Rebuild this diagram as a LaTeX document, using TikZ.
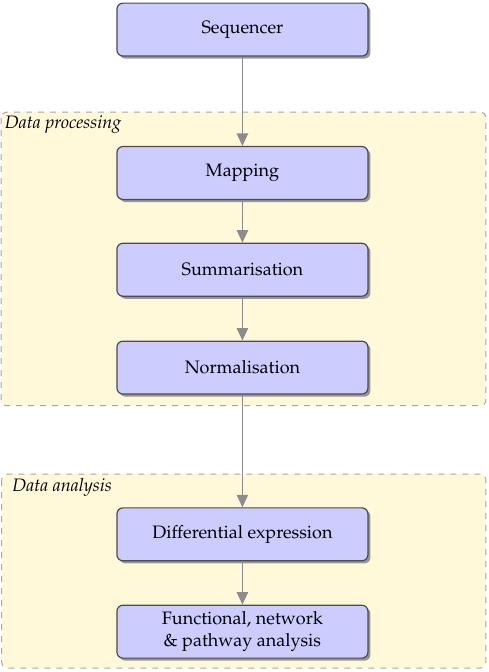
\documentclass[tikz,border=0pt]{standalone}
\usepackage[T1]{fontenc}
\usepackage{mathpazo}
\usepackage{tikz}
\usetikzlibrary{arrows.meta,positioning,shadows,backgrounds}
\definecolor{phasefill}{HTML}{FFF9DA}
\tikzset{
  stage/.style  ={draw=black!70, rounded corners=3pt, line width=0.6pt,
                  fill=blue!20, minimum width=4.41cm, minimum height=0.93cm,
                  align=center, inner sep=2pt, font=\small,
                  drop shadow={shadow xshift=0.45mm, shadow yshift=-0.45mm,
                               fill=black!45, opacity=0.9}},
  flow/.style   ={-{Triangle[length=2.2mm,width=2mm]}, line width=0.7pt,
                  black!45},
  phase/.style  ={draw=black!35, dashed, rounded corners=3pt,
                  fill=phasefill, line width=0.5pt},
  plbl/.style   ={font=\small\itshape, anchor=base west, inner sep=0pt},
}

\begin{document}
\begin{tikzpicture}
\useasboundingbox (0,0) rectangle (8.593,-11.809);
% phases
\draw[phase] (0.02,-1.97) rectangle (8.54,-7.13);
\draw[phase] (0.03,-8.33) rectangle (8.54,-11.74);
\node[plbl] (lproc) at (0.08,-2.25) {Data processing};
\node[plbl] (lana)  at (0.21,-8.63) {Data analysis};
% stages
\node[stage] (seq)  at (4.26,-0.52)  {Sequencer};
\node[stage] (map)  at (4.26,-3.04)  {Mapping};
\node[stage] (summ) at (4.26,-4.74)  {Summarisation};
\node[stage] (norm) at (4.26,-6.46)  {Normalisation};
\node[stage] (diff) at (4.26,-9.39)  {Differential expression};
\node[stage] (func) at (4.26,-11.10) {Functional, network\\ \& pathway analysis};
\draw[flow] (seq)  -- (map);
\draw[flow] (map)  -- (summ);
\draw[flow] (summ) -- (norm);
\draw[flow] (norm) -- (diff);
\draw[flow] (diff) -- (func);
\end{tikzpicture}
\end{document}
